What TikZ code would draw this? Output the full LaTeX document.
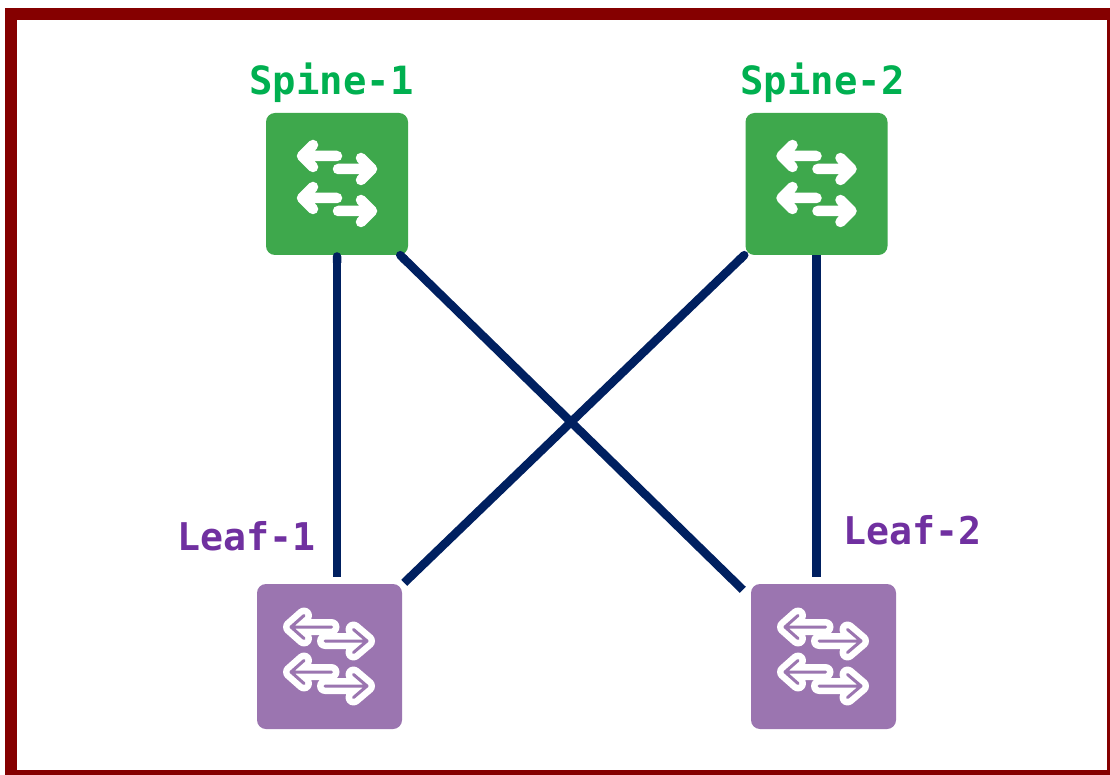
\documentclass[tikz,border=0pt]{standalone}
\usepackage{fontspec}
\setmonofont{DejaVu Sans Mono}
\usetikzlibrary{positioning,arrows.meta}
\definecolor{framered}{HTML}{850000}
\definecolor{spinegreen}{HTML}{3EA84C}
\definecolor{spinetext}{HTML}{00B050}
\definecolor{leafpurple}{HTML}{9B75B0}
\definecolor{leaftext}{HTML}{7030A0}
\definecolor{linknavy}{HTML}{002060}
\tikzset{switch node/.style={rectangle, rounded corners=9pt, minimum size=#1, inner sep=0pt}}
\tikzset{spine node/.style={switch node=142pt, fill=spinegreen}}
\tikzset{leaf node/.style={switch node=145pt, fill=leafpurple}}
\tikzset{spine label/.style={text=spinetext, font=\ttfamily\bfseries\fontsize{38.9}{40}\selectfont}}
\tikzset{leaf label/.style={text=leaftext, font=\ttfamily\bfseries\fontsize{38.2}{40}\selectfont}}
\tikzset{regular edge/.style={draw=linknavy, line width=8.5pt}}
\tikzset{round start/.style={{Round Cap[]}-}}
\tikzset{arrow strokes/.style={line cap=round, line join=round}}
\tikzset{spine icon/.pic={
    \draw [white, line width=10.5pt, arrow strokes] (0,-28) -- (-35,-28) (-24,-39) -- (-35,-28) -- (-24,-17);
    \draw [white, line width=10.5pt, arrow strokes] (1,-15) -- (35,-15) (24,-26) -- (35,-15) -- (24,-4);
    \draw [white, line width=10.5pt, arrow strokes] (0,14) -- (-35,14) (-24,3) -- (-35,14) -- (-24,25);
    \draw [white, line width=10.5pt, arrow strokes] (1,27) -- (35,27) (24,16) -- (35,27) -- (24,38);
}}
\tikzset{leaf icon/.pic={
    \foreach \strokecol/\strokewd in {white/16, leafpurple/3} {
      \draw [\strokecol, line width=\strokewd pt, arrow strokes] (2,-29.5) -- (-38.5,-29.5) (-25.5,-41) -- (-38.5,-29.5) -- (-25.5,-18);
      \draw [\strokecol, line width=\strokewd pt, arrow strokes] (-4.5,-15.5) -- (37.5,-15.5) (24,-27) -- (37.5,-15.5) -- (24,-4);
      \draw [\strokecol, line width=\strokewd pt, arrow strokes] (2,15.5) -- (-38.5,15.5) (-25.5,4) -- (-38.5,15.5) -- (-25.5,27);
      \draw [\strokecol, line width=\strokewd pt, arrow strokes] (-4.5,29.5) -- (37.5,29.5) (24,18) -- (37.5,29.5) -- (24,41);
    }
}}
\begin{document}
\begin{tikzpicture}
      [x=1pt, y=-1pt]
      \useasboundingbox (0,0) rectangle (1110,775);
      \fill [white] (0,0) rectangle (1110,775);
      \begin{scope}
        \clip (0,0) rectangle (1110,775);
        \draw [framered, line width=12pt] (11,14) rectangle (1113,776);
      \end{scope}

      \node [spine node] (spine1) at (337, 184) {};
      \node [spine node] (spine2) at (816.5, 184) {};
      \node [leaf node]  (leaf1)  at (329.5, 656.5) {};
      \node [leaf node]  (leaf2)  at (823.5, 656.5) {};
      \pic at (spine1) {spine icon};
      \pic at (spine2) {spine icon};
      \pic at (leaf1) {leaf icon};
      \pic at (leaf2) {leaf icon};

      \node [spine label] (spine1 text) at (331.5, 83) {Spine-1};
      \node [spine label] (spine2 text) at (822.5, 83) {Spine-2};
      \node [leaf label]  (leaf1 text)  at (246.5, 536) {Leaf-1};
      \node [leaf label]  (leaf2 text)  at (912, 530) {Leaf-2};

      \draw [regular edge, round start, shorten >=7pt] ([yshift=3pt]spine1.south) to (spine1.south |- leaf1.north);
      \draw [regular edge, shorten >=7pt] (spine2.south) to (spine2.south |- leaf2.north);
      \draw [regular edge, round start] ([xshift=-11pt, yshift=3pt]spine1.south east) to ([xshift=-8pt, yshift=-6pt]leaf2.north west);
      \draw [regular edge, round start] ([xshift=2pt, yshift=3pt]spine2.south west) to ([xshift=2pt, yshift=1pt]leaf1.north east);
    \end{tikzpicture}
\end{document}
